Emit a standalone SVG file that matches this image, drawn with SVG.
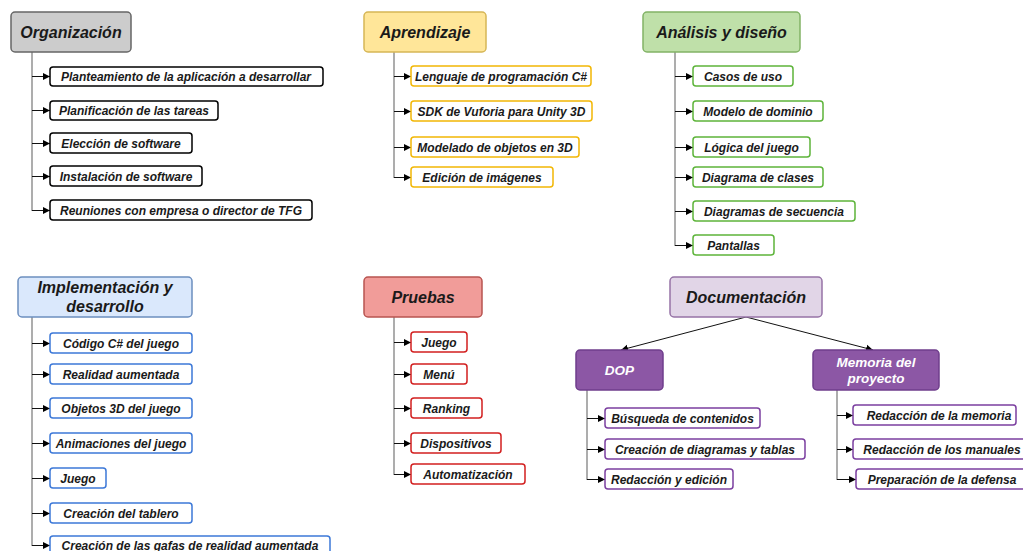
<svg xmlns="http://www.w3.org/2000/svg" width="1023" height="551" viewBox="0 0 1023 551">
  <defs>
    <marker id="arrow" markerUnits="userSpaceOnUse" markerWidth="8" markerHeight="8" refX="7" refY="4" orient="auto">
      <path d="M0,0.5 L7,4 L0,7.5 z" fill="#000"/>
    </marker>
    <style>
      text { font-family: "Liberation Sans", Arial, sans-serif; font-weight: bold; font-style: italic; fill: #1a1a1a; text-anchor: middle; }
      .title { font-size: 16px; }
      .item { font-size: 12px; }
      .sub { font-size: 13.5px; fill: #ffffff; }
      .head { stroke-width: 1.5; }
      .box { fill: #ffffff; stroke-width: 1.5; }
      .c-black { stroke: #000000; }
      .c-gold { stroke: #f2b705; }
      .c-green { stroke: #5db43a; }
      .c-blue { stroke: #3c78d8; }
      .c-red { stroke: #d21f1f; }
      .c-purple { stroke: #7b3fa0; }
      .link { fill: none; stroke: #111; stroke-width: 1; marker-end: url(#arrow); }
      .trunk { fill: none; stroke: #777; stroke-width: 1.2; }
    </style>
  </defs>

  <!-- connectors -->
  <g id="connectors">
    <!-- Organización -->
    <path class="trunk" d="M32,52 V210.5 H38"/>
    <path class="link" d="M32,76.5 H50"/>
    <path class="link" d="M32,110.5 H50"/>
    <path class="link" d="M32,143.5 H50"/>
    <path class="link" d="M32,176.5 H50"/>
    <path class="link" d="M32,210.5 H50"/>
    <!-- Aprendizaje -->
    <path class="trunk" d="M394,52 V177.5 H400"/>
    <path class="link" d="M394,76.5 H411"/>
    <path class="link" d="M394,111.5 H411"/>
    <path class="link" d="M394,147.5 H411"/>
    <path class="link" d="M394,177.5 H411"/>
    <!-- Análisis y diseño -->
    <path class="trunk" d="M675,52 V245.5 H681"/>
    <path class="link" d="M675,76.5 H693"/>
    <path class="link" d="M675,111.5 H693"/>
    <path class="link" d="M675,147.5 H693"/>
    <path class="link" d="M675,177.5 H693"/>
    <path class="link" d="M675,211.5 H693"/>
    <path class="link" d="M675,245.5 H693"/>
    <!-- Implementación y desarrollo -->
    <path class="trunk" d="M32,317 V545.5 H38"/>
    <path class="link" d="M32,343.5 H50"/>
    <path class="link" d="M32,374.5 H50"/>
    <path class="link" d="M32,408.5 H50"/>
    <path class="link" d="M32,443.5 H50"/>
    <path class="link" d="M32,478.5 H50"/>
    <path class="link" d="M32,513.5 H50"/>
    <path class="link" d="M32,545.5 H50"/>
    <!-- Pruebas -->
    <path class="trunk" d="M394,317 V474.5 H400"/>
    <path class="link" d="M394,342.5 H411"/>
    <path class="link" d="M394,374.5 H411"/>
    <path class="link" d="M394,408.5 H411"/>
    <path class="link" d="M394,443.5 H411"/>
    <path class="link" d="M394,474.5 H411"/>
    <!-- Documentación -->
    <path class="link" d="M746,317 L621,350"/>
    <path class="link" d="M746,317 L873,350"/>
    <!-- DOP -->
    <path class="trunk" d="M587,390 V479.5 H593"/>
    <path class="link" d="M587,418.5 H605"/>
    <path class="link" d="M587,449.5 H605"/>
    <path class="link" d="M587,479.5 H605"/>
    <!-- Memoria del proyecto -->
    <path class="trunk" d="M837,390 V479.5 H843"/>
    <path class="link" d="M837,415.5 H853"/>
    <path class="link" d="M837,449.5 H853"/>
    <path class="link" d="M837,479.5 H856"/>
  </g>

  <!-- Organización -->
  <g id="organizacion">
    <rect class="head" x="11" y="12" width="120" height="40" rx="4" fill="#cccccc" stroke="#666666"/>
    <text class="title" x="71" y="37.5">Organización</text>
  </g>
  <g id="org-planteamiento">
    <rect class="box c-black" x="50" y="67" width="273" height="19" rx="3"/>
    <text class="item" x="186" y="80.5">Planteamiento de la aplicación a desarrollar</text>
  </g>
  <g id="org-planificacion">
    <rect class="box c-black" x="50" y="101" width="168" height="19" rx="3"/>
    <text class="item" x="134" y="114.5">Planificación de las tareas</text>
  </g>
  <g id="org-eleccion">
    <rect class="box c-black" x="50" y="133" width="142" height="20" rx="3"/>
    <text class="item" x="121" y="147.5">Elección de software</text>
  </g>
  <g id="org-instalacion">
    <rect class="box c-black" x="50" y="166" width="152" height="20" rx="3"/>
    <text class="item" x="126" y="180.5">Instalación de software</text>
  </g>
  <g id="org-reuniones">
    <rect class="box c-black" x="50" y="200" width="262" height="20" rx="3"/>
    <text class="item" x="181" y="214.5">Reuniones con empresa o director de TFG</text>
  </g>

  <!-- Aprendizaje -->
  <g id="aprendizaje">
    <rect class="head" x="364" y="12" width="122" height="40" rx="4" fill="#ffe699" stroke="#d6b656"/>
    <text class="title" x="425" y="37.5">Aprendizaje</text>
  </g>
  <g id="apr-lenguaje">
    <rect class="box c-gold" x="411" y="66" width="180" height="20" rx="3"/>
    <text class="item" x="501" y="80.5">Lenguaje de programación C#</text>
  </g>
  <g id="apr-sdk">
    <rect class="box c-gold" x="411" y="101" width="181" height="20" rx="3"/>
    <text class="item" x="501.5" y="115.5">SDK de Vuforia para Unity 3D</text>
  </g>
  <g id="apr-modelado">
    <rect class="box c-gold" x="411" y="137" width="168" height="20" rx="3"/>
    <text class="item" x="495" y="151.5">Modelado de objetos en 3D</text>
  </g>
  <g id="apr-edicion">
    <rect class="box c-gold" x="411" y="167" width="142" height="20" rx="3"/>
    <text class="item" x="482" y="181.5">Edición de imágenes</text>
  </g>

  <!-- Análisis y diseño -->
  <g id="analisis">
    <rect class="head" x="643" y="12" width="157" height="40" rx="4" fill="#bfe0a9" stroke="#82b366"/>
    <text class="title" x="721.5" y="37.5">Análisis y diseño</text>
  </g>
  <g id="ana-casos">
    <rect class="box c-green" x="693" y="66" width="100" height="20" rx="3"/>
    <text class="item" x="743" y="80.5">Casos de uso</text>
  </g>
  <g id="ana-modelo">
    <rect class="box c-green" x="693" y="101" width="130" height="20" rx="3"/>
    <text class="item" x="758" y="115.5">Modelo de dominio</text>
  </g>
  <g id="ana-logica">
    <rect class="box c-green" x="693" y="137" width="117" height="20" rx="3"/>
    <text class="item" x="751.5" y="151.5">Lógica del juego</text>
  </g>
  <g id="ana-clases">
    <rect class="box c-green" x="693" y="167" width="130" height="20" rx="3"/>
    <text class="item" x="758" y="181.5">Diagrama de clases</text>
  </g>
  <g id="ana-secuencia">
    <rect class="box c-green" x="693" y="201" width="162" height="20" rx="3"/>
    <text class="item" x="774" y="215.5">Diagramas de secuencia</text>
  </g>
  <g id="ana-pantallas">
    <rect class="box c-green" x="693" y="235" width="81" height="20" rx="3"/>
    <text class="item" x="733.5" y="249.5">Pantallas</text>
  </g>

  <!-- Implementación y desarrollo -->
  <g id="implementacion">
    <rect class="head" x="18" y="277" width="174" height="40" rx="4" fill="#dae8fc" stroke="#6c8ebf"/>
    <text class="title" x="105" y="293">Implementación y</text>
    <text class="title" x="105" y="312">desarrollo</text>
  </g>
  <g id="imp-codigo">
    <rect class="box c-blue" x="50" y="333" width="142" height="20" rx="3"/>
    <text class="item" x="121" y="347.5">Código C# del juego</text>
  </g>
  <g id="imp-realidad">
    <rect class="box c-blue" x="50" y="364" width="142" height="20" rx="3"/>
    <text class="item" x="121" y="378.5">Realidad aumentada</text>
  </g>
  <g id="imp-objetos">
    <rect class="box c-blue" x="50" y="398" width="142" height="20" rx="3"/>
    <text class="item" x="121" y="412.5">Objetos 3D del juego</text>
  </g>
  <g id="imp-animaciones">
    <rect class="box c-blue" x="50" y="433" width="142" height="20" rx="3"/>
    <text class="item" x="121" y="447.5">Animaciones del juego</text>
  </g>
  <g id="imp-juego">
    <rect class="box c-blue" x="50" y="468" width="56" height="20" rx="3"/>
    <text class="item" x="78" y="482.5">Juego</text>
  </g>
  <g id="imp-tablero">
    <rect class="box c-blue" x="50" y="503" width="142" height="20" rx="3"/>
    <text class="item" x="121" y="517.5">Creación del tablero</text>
  </g>
  <g id="imp-gafas">
    <rect class="box c-blue" x="50" y="536" width="280" height="20" rx="3"/>
    <text class="item" x="190" y="550">Creación de las gafas de realidad aumentada</text>
  </g>

  <!-- Pruebas -->
  <g id="pruebas">
    <rect class="head" x="364" y="277" width="118" height="40" rx="4" fill="#f19c99" stroke="#b85450"/>
    <text class="title" x="423" y="302.5">Pruebas</text>
  </g>
  <g id="pru-juego">
    <rect class="box c-red" x="411" y="332" width="56" height="20" rx="3"/>
    <text class="item" x="439" y="346.5">Juego</text>
  </g>
  <g id="pru-menu">
    <rect class="box c-red" x="411" y="364" width="56" height="20" rx="3"/>
    <text class="item" x="439" y="378.5">Menú</text>
  </g>
  <g id="pru-ranking">
    <rect class="box c-red" x="411" y="398" width="71" height="20" rx="3"/>
    <text class="item" x="446.5" y="412.5">Ranking</text>
  </g>
  <g id="pru-dispositivos">
    <rect class="box c-red" x="411" y="433" width="90" height="20" rx="3"/>
    <text class="item" x="456" y="447.5">Dispositivos</text>
  </g>
  <g id="pru-automatizacion">
    <rect class="box c-red" x="411" y="464" width="114" height="20" rx="3"/>
    <text class="item" x="468" y="478.5">Automatización</text>
  </g>

  <!-- Documentación -->
  <g id="documentacion">
    <rect class="head" x="670" y="277" width="152" height="40" rx="4" fill="#e1d5e7" stroke="#9673a6"/>
    <text class="title" x="746" y="302.5">Documentación</text>
  </g>
  <g id="dop">
    <rect class="head" x="576" y="350" width="87" height="40" rx="4" fill="#8c57a5" stroke="#6f3e8c"/>
    <text class="sub" x="619.5" y="375">DOP</text>
  </g>
  <g id="dop-busqueda">
    <rect class="box c-purple" x="605" y="408" width="155" height="20" rx="3"/>
    <text class="item" x="682.5" y="422.5">Búsqueda de contenidos</text>
  </g>
  <g id="dop-diagramas">
    <rect class="box c-purple" x="605" y="439" width="200" height="20" rx="3"/>
    <text class="item" x="705" y="453.5">Creación de diagramas y tablas</text>
  </g>
  <g id="dop-redaccion">
    <rect class="box c-purple" x="605" y="469" width="128" height="20" rx="3"/>
    <text class="item" x="669" y="483.5">Redacción y edición</text>
  </g>
  <g id="memoria">
    <rect class="head" x="813" y="350" width="126" height="40" rx="4" fill="#8c57a5" stroke="#6f3e8c"/>
    <text class="sub" x="876" y="367">Memoria del</text>
    <text class="sub" x="876" y="382.5">proyecto</text>
  </g>
  <g id="mem-memoria">
    <rect class="box c-purple" x="853" y="405" width="163" height="20" rx="3"/>
    <text class="item" x="939" y="419.5">Redacción de la memoria</text>
  </g>
  <g id="mem-manuales">
    <rect class="box c-purple" x="853" y="439" width="180" height="20" rx="3"/>
    <text class="item" x="942" y="453.5">Redacción de los manuales</text>
  </g>
  <g id="mem-defensa">
    <rect class="box c-purple" x="856" y="469" width="180" height="20" rx="3"/>
    <text class="item" x="942" y="483.5">Preparación de la defensa</text>
  </g>
</svg>
